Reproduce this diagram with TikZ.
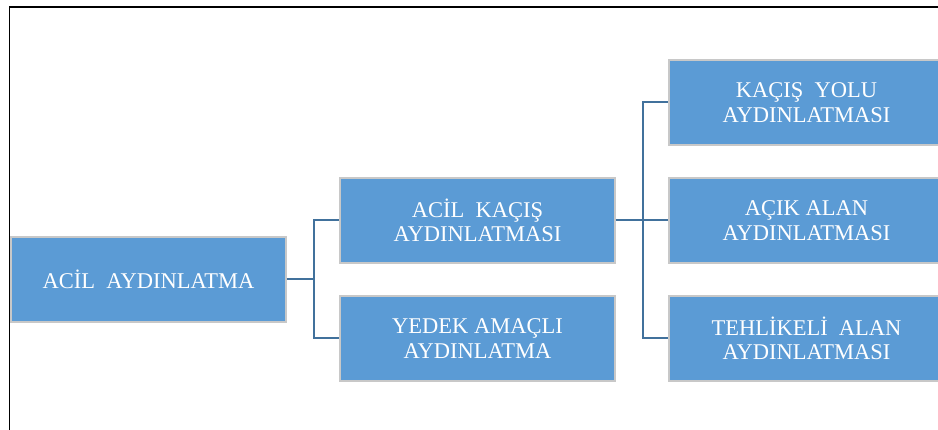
\documentclass[tikz,border=0pt]{standalone}
\usepackage{fontspec}
\setmainfont{Liberation Serif}
\definecolor{boxblue}{HTML}{5B9BD5}
\definecolor{boxedge}{HTML}{C8C8C8}
\definecolor{linkblue}{HTML}{41719C}
\tikzset{
  unit/.style={draw=boxedge, line width=1.2pt, fill=boxblue, text=white,
    minimum width=275pt, minimum height=85pt, inner sep=0pt,
    align=center, font=\fontsize{22.5}{24.4}\selectfont},
  link/.style={draw=linkblue, line width=2pt},
  frame/.style={draw=black, line width=1.6pt}
}
\begin{document}
\begin{tikzpicture}[x=1pt, y=-1pt]
  \path[use as bounding box] (0,0) rectangle (938,430);
  \clip (0,0) rectangle (938,430);

  % page frame (top and left edges)
  \coordinate (fTL) at (9.5,7.3);
  \coordinate (fTR) at (940,7.3);
  \coordinate (fBL) at (9.5,432);
  \draw[frame] (fTR) -- (fTL) -- (fBL);

  % boxes
  \node[unit] (root)  at (148.5,279.5) {ACİL\ \ AYDINLATMA};
  \node[unit] (kacis) at (477.5,220.5) {ACİL\ \ KAÇIŞ\\AYDINLATMASI};
  \node[unit] (yedek) at (477.5,338.5) {YEDEK AMAÇLI\\AYDINLATMA};
  \node[unit] (yol)   at (806.5,102.5) {KAÇIŞ\ \ YOLU\\AYDINLATMASI};
  \node[unit] (acik)  at (806.5,220.5) {AÇIK ALAN\\AYDINLATMASI};
  \node[unit] (tehl)  at (806.5,338.5) {TEHLİKELİ\ \ ALAN\\AYDINLATMASI};

  % elbow connectors
  \draw[link] (root.east) -- ++(27,0) coordinate (j1);
  \draw[link] (j1) |- (kacis.west);
  \draw[link] (j1) |- (yedek.west);

  \draw[link] (kacis.east) -- ++(27,0) coordinate (j2);
  \draw[link] (j2) |- (yol.west);
  \draw[link] (j2) -- (acik.west);
  \draw[link] (j2) |- (tehl.west);
\end{tikzpicture}
\end{document}
